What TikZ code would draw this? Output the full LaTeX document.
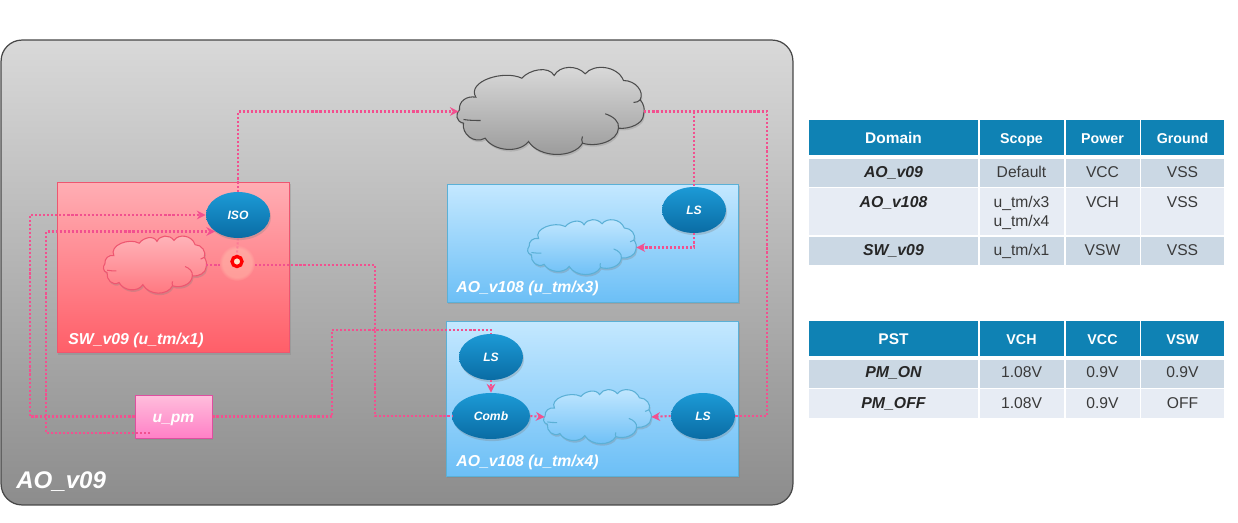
\documentclass[tikz,border=0pt]{standalone}
\usepackage{fontspec}
\setmainfont{Liberation Sans}
\usepackage{tikz}
\usetikzlibrary{arrows.meta,positioning,calc,shapes.geometric,shadows,fadings}
\definecolor{wirepink}{HTML}{F2508F}
\definecolor{hdrblue}{HTML}{0F82B4}
\definecolor{rowdark}{HTML}{CBD8E4}
\definecolor{rowlight}{HTML}{E7ECF4}
\definecolor{celltext}{HTML}{3A3A3A}
\definecolor{swline}{HTML}{EE5670}
\definecolor{swtop}{HTML}{FFAEB4}
\definecolor{swbot}{HTML}{FF5E68}
\definecolor{hiline}{HTML}{5BB0D6}
\definecolor{hitop}{HTML}{C4E8FF}
\definecolor{hibot}{HTML}{6CBFF6}
\definecolor{bubtop}{HTML}{1C9AD6}
\definecolor{bubbot}{HTML}{0A6CA4}
\definecolor{pmline}{HTML}{DE4FA0}
\definecolor{pmtop}{HTML}{FFBEDC}
\definecolor{pmbot}{HTML}{FF80C6}
\tikzset{
  softshadow/.style={drop shadow={shadow xshift=.6pt,shadow yshift=-1.2pt,opacity=.3}},
  domainbox/.style={rectangle,inner sep=0pt,softshadow},
  swdomain/.style={domainbox,draw=swline,line width=.55pt,top color=swtop,bottom color=swbot},
  hidomain/.style={domainbox,draw=hiline,line width=.55pt,top color=hitop,bottom color=hibot},
  cellbubble/.style={ellipse,inner sep=0pt,minimum width=1.28cm,minimum height=.92cm,top color=bubtop,bottom color=bubbot,text=white,font=\fontsize{6.9}{8}\selectfont\bfseries\itshape,softshadow},
  blob/.style={rectangle,inner sep=0pt},
  domlabel/.style={anchor=base west,text=white,font=\fontsize{9}{10}\selectfont\bfseries\itshape,inner sep=0pt},
  wire/.style={wirepink,line width=1.15pt,dash pattern=on 1.2pt off 1.1pt},
  hdrcell/.style={fill=hdrblue},
  darkcell/.style={fill=rowdark},
  lightcell/.style={fill=rowlight},
  hdrtext/.style={anchor=base,text=white,font=\fontsize{8.1}{10}\selectfont\bfseries,inner sep=0pt},
  bodytext/.style={anchor=base,text=celltext,font=\fontsize{8.9}{11}\selectfont,inner sep=0pt},
  keytext/.style={anchor=base,text=black!85,font=\fontsize{9}{11}\selectfont\bfseries\itshape,inner sep=0pt},
}
% outline of a cloud round a blob node: node, xscale, yscale, line, top, bottom
\newcommand{\puffcloud}[6]{
\path[shift={(#1.center)},xscale=#2,yscale=#3,line width=.6pt,softshadow,draw=#4,top color=#5,bottom color=#6]
  (-92,-1.7) .. controls (-93,-10) and (-85,-16) .. (-75.7,-14.3)
  .. controls (-85,-30) and (-48,-42) .. (-29.7,-33.3)
  .. controls (-22,-42) and (-3,-46) .. (2.7,-36)
  .. controls (8,-46) and (25,-47) .. (33.7,-37.7)
  .. controls (42,-48) and (66,-46) .. (72,-31)
  .. controls (84,-31) and (93,-20) .. (88.7,-11.7)
  .. controls (92,-8) and (94,-2) .. (92,3.3)
  .. controls (92,12) and (78,18) .. (67,16.7)
  .. controls (66,30) and (45,36) .. (31,31.7)
  .. controls (22,47) and (-12,47) .. (-23,30)
  .. controls (-32,42) and (-58,40) .. (-66.3,26.7)
  .. controls (-78,33) and (-90,22) .. (-88,11.7)
  .. controls (-96,10) and (-96,2) .. (-92,-1.7) -- cycle;
\draw[shift={(#1.center)},xscale=#2,yscale=#3,line width=.6pt,draw=#4]
  (-88,8) .. controls (-82,9) and (-76,9) .. (-71,9)
  (53.7,2.3) .. controls (62,5) and (68,10) .. (67,16.7)
  (88.7,-11.7) .. controls (87,-10) and (85,-9) .. (82,-9)
  (31,31.7) .. controls (30,29) and (30,27) .. (31,25);
}
\begin{document}
\begin{tikzpicture}[x=.02cm,y=-.02cm,>={Stealth[length=5pt,width=5pt]}]
\useasboundingbox (0,0) rectangle (1238,523);
% domains
\node[rectangle,rounded corners=.42cm,inner sep=0pt,minimum width=15.84cm,minimum height=9.3cm,draw=black!72,line width=.7pt,top color=black!15,bottom color=black!45] (aov) at (397,272.5) {};
\node[swdomain,minimum width=4.66cm,minimum height=3.42cm] (swbox) at (173.5,267.5) {};
\node[hidomain,minimum width=5.84cm,minimum height=2.36cm] (xthree) at (593,243) {};
\node[hidomain,minimum width=5.86cm,minimum height=3.1cm] (xfour) at (592.5,398.5) {};
\node[rectangle,inner sep=0pt,minimum width=1.54cm,minimum height=.86cm,draw=pmline,line width=.5pt,top color=pmtop,bottom color=pmbot,softshadow] (upm) at (173.5,416.5) {};
% clouds
\node[blob,minimum width=3.7cm,minimum height=1.74cm] (bigcloud) at (551.5,111.5) {};
\node[blob,minimum width=2.02cm,minimum height=1.14cm] (cloudsw) at (155.5,265) {};
\node[blob,minimum width=2.14cm,minimum height=1.1cm] (cloudx) at (582.5,247.5) {};
\node[blob,minimum width=2.12cm,minimum height=1.08cm] (cloudy) at (598,417) {};
\puffcloud{bigcloud}{1}{1}{black!70}{black!14}{black!40}
\puffcloud{cloudsw}{.55}{.655}{swline}{swtop!90}{swbot!85}
\puffcloud{cloudx}{.58}{.63}{hiline}{hitop}{hibot}
\puffcloud{cloudy}{.575}{.62}{hiline}{hitop}{hibot}
% cells
\node[cellbubble] (iso) at (238,215) {ISO};
\node[cellbubble] (lsx) at (694,210) {LS};
\node[cellbubble] (lsy) at (491,357) {LS};
\node[cellbubble,minimum width=1.56cm] (comb) at (491,416) {Comb};
\node[cellbubble] (lsz) at (703,416) {LS};
% isolation marker
\node[circle,inner sep=0pt,minimum size=.72cm,fill=orange!25!white,opacity=.3,path fading=circle with fuzzy edge 20 percent] (dotglow) at (237,263) {};
\node[circle,inner sep=0pt,minimum size=.2cm,draw=red,line width=1.9pt,fill=white!80!orange] (dot) at (237,261.5) {};
\coordinate (dotl) at (220,265);
\coordinate (dotr) at (255,265);
\coordinate (busa) at (30,416.5);
\coordinate (upmin) at (150,433);
\coordinate (busb) at (46,433);
\coordinate (busc) at (332,330);
\coordinate (busd) at (767,111.5);
\coordinate (buse) at (375,265);
% connectors
\draw[wire,->] (iso.north) |- (bigcloud.west);
\draw[wire] (bigcloud.east) -- (busd) |- (lsz.east);
\draw[wire] (bigcloud.east -| lsx.north) -- (lsx.north);
\draw[wire,->] (lsx.south) |- (cloudx.east);
\draw[wire,->] (upm.west) -- (busa) |- (iso.west);
\draw[wire,->] (upmin) -- (busb) |- (iso.south west);
\draw[wire] (upm.east) -| (busc) -| (lsy.north);
\draw[wire,->] (lsy.south) -- (comb.north);
\draw[wire,->] (comb.east) -- (cloudy.west);
\draw[wire,->] (lsz.west) -- (cloudy.east);
\draw[wire] (cloudsw.east) -- (dotl);
\draw[wire,opacity=.35] (iso.south) -- (dot.north);
\draw[wire] (dotr) -- (buse) |- (comb.west);
% labels
\node[anchor=base,text=white,font=\fontsize{8.9}{11}\selectfont\bfseries\itshape,inner sep=0pt] (pmlabel) at (173.5,423) {u\_pm};
\node[domlabel,font=\fontsize{13.7}{16}\selectfont\bfseries\itshape] (aolabel) at (16,489) {AO\_v09};
\node[domlabel] (swlabel) at (68,345) {SW\_v09 (u\_tm/x1)};
\node[domlabel] (xlabel) at (456,293) {AO\_v108 (u\_tm/x3)};
\node[domlabel] (ylabel) at (456,467) {AO\_v108 (u\_tm/x4)};
% domain table
\fill[hdrcell] (809,120.5) rectangle (978,155.5);
\fill[hdrcell] (979.5,120.5) rectangle (1064,155.5);
\fill[hdrcell] (1066,120.5) rectangle (1139.5,155.5);
\fill[hdrcell] (1141,120.5) rectangle (1224,155.5);
\node[hdrtext,font=\fontsize{8.8}{10}\selectfont\bfseries] (hdomain) at (893.5,144) {Domain};
\node[hdrtext] (hscope) at (1021.5,144) {Scope};
\node[hdrtext] (hpower) at (1102.5,144) {Power};
\node[hdrtext] (hground) at (1182.5,144) {Ground};
\fill[darkcell] (809,159) rectangle (978,187);
\fill[darkcell] (979.5,159) rectangle (1064,187);
\fill[darkcell] (1066,159) rectangle (1139.5,187);
\fill[darkcell] (1141,159) rectangle (1224,187);
\node[keytext] (aovkey) at (893.5,177.5) {AO\_v09};
\node[bodytext] (aovscope) at (1021.5,177.5) {Default};
\node[bodytext] (aovpower) at (1102.5,177.5) {VCC};
\node[bodytext] (aovground) at (1182.5,177.5) {VSS};
\fill[lightcell] (809,188.5) rectangle (978,235.5);
\fill[lightcell] (979.5,188.5) rectangle (1064,235.5);
\fill[lightcell] (1066,188.5) rectangle (1139.5,235.5);
\fill[lightcell] (1141,188.5) rectangle (1224,235.5);
\node[keytext] (hikey) at (893.5,208) {AO\_v108};
\node[bodytext] (hiscope) at (1021.5,208) {u\_tm/x3};
\node[bodytext] (hiscopeb) at (1021.5,227) {u\_tm/x4};
\node[bodytext] (hipower) at (1102.5,208) {VCH};
\node[bodytext] (higround) at (1182.5,208) {VSS};
\fill[darkcell] (809,237) rectangle (978,265.5);
\fill[darkcell] (979.5,237) rectangle (1064,265.5);
\fill[darkcell] (1066,237) rectangle (1139.5,265.5);
\fill[darkcell] (1141,237) rectangle (1224,265.5);
\node[keytext] (swkey) at (893.5,256) {SW\_v09};
\node[bodytext] (swscope) at (1021.5,256) {u\_tm/x1};
\node[bodytext] (swpower) at (1102.5,256) {VSW};
\node[bodytext] (swground) at (1182.5,256) {VSS};
% pst table
\fill[hdrcell] (809,321) rectangle (978,356);
\fill[hdrcell] (979.5,321) rectangle (1064,356);
\fill[hdrcell] (1066,321) rectangle (1139.5,356);
\fill[hdrcell] (1141,321) rectangle (1224,356);
\node[hdrtext,font=\fontsize{8.8}{10}\selectfont\bfseries] (hpst) at (893.5,345) {PST};
\node[hdrtext] (hvch) at (1021.5,345) {VCH};
\node[hdrtext] (hvcc) at (1102.5,345) {VCC};
\node[hdrtext] (hvsw) at (1182.5,345) {VSW};
\fill[darkcell] (809,360) rectangle (978,388);
\fill[darkcell] (979.5,360) rectangle (1064,388);
\fill[darkcell] (1066,360) rectangle (1139.5,388);
\fill[darkcell] (1141,360) rectangle (1224,388);
\node[keytext] (onkey) at (893.5,378) {PM\_ON};
\node[bodytext] (onvch) at (1021.5,378) {1.08V};
\node[bodytext] (onvcc) at (1102.5,378) {0.9V};
\node[bodytext] (onvsw) at (1182.5,378) {0.9V};
\fill[lightcell] (809,389.5) rectangle (978,418);
\fill[lightcell] (979.5,389.5) rectangle (1064,418);
\fill[lightcell] (1066,389.5) rectangle (1139.5,418);
\fill[lightcell] (1141,389.5) rectangle (1224,418);
\node[keytext] (offkey) at (893.5,409) {PM\_OFF};
\node[bodytext] (offvch) at (1021.5,409) {1.08V};
\node[bodytext] (offvcc) at (1102.5,409) {0.9V};
\node[bodytext] (offvsw) at (1182.5,409) {OFF};
\end{tikzpicture}
\end{document}
